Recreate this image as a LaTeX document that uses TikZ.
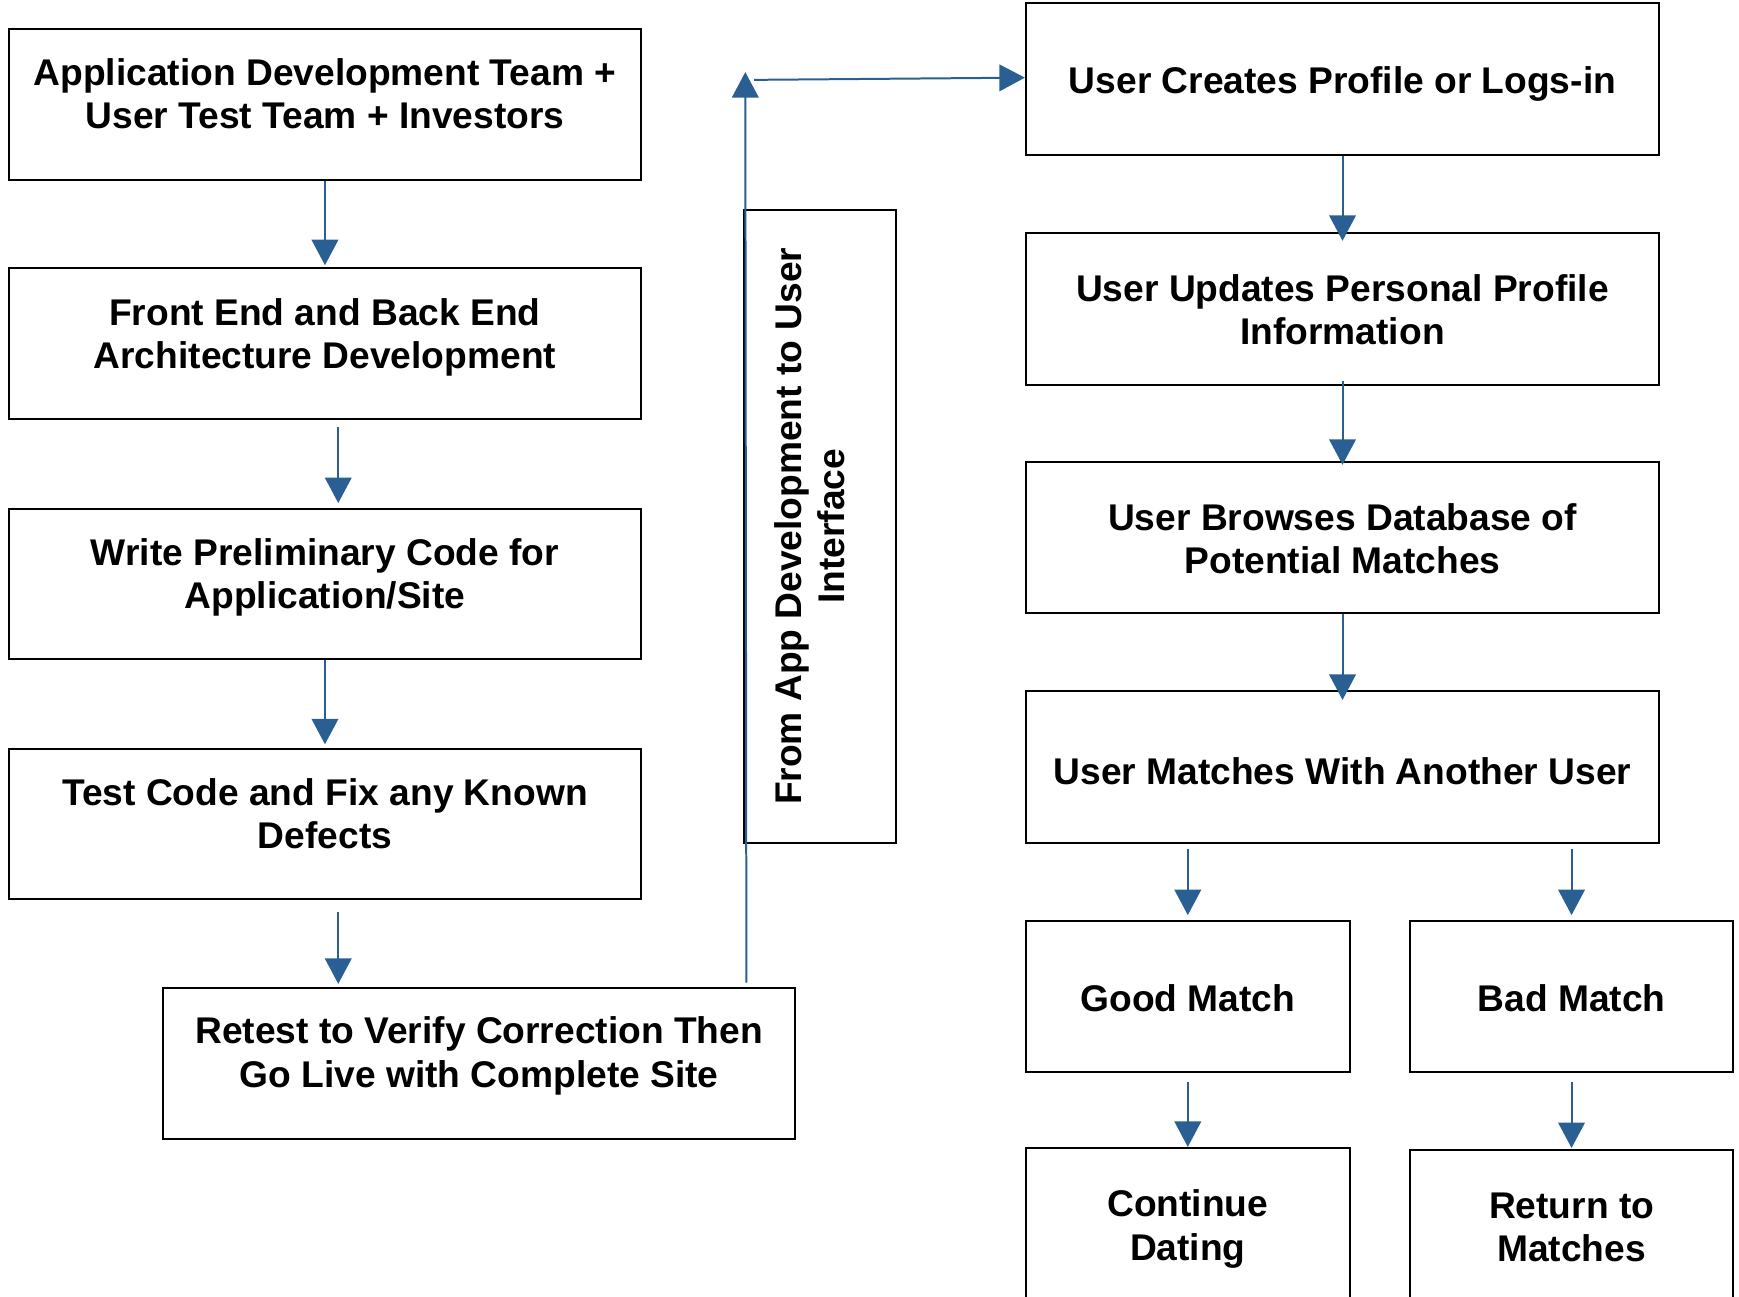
\documentclass[tikz,border=0pt]{standalone}
\usepackage{fontspec}
\setmainfont{Liberation Sans}
\usetikzlibrary{arrows.meta,calc}
\definecolor{flowblue}{RGB}{42,95,148}
\begin{document}
\begin{tikzpicture}[x=0.5pt,y=-0.5pt,
  box/.style={draw=black,line width=0.9pt,fill=white,inner sep=0pt},
  widebox/.style={box,minimum width=285pt,minimum height=68pt},
  smallbox/.style={box,minimum width=146pt,minimum height=68.5pt},
  lbl/.style={align=center,inner sep=0pt,font=\bfseries\fontsize{16.75}{19.5}\selectfont},
  flow/.style={draw=flowblue,line width=0.9pt,-{Triangle[width=12pt,length=11.5pt]}}]
\useasboundingbox (0,0) rectangle (1568,1169);
\clip (0,0) rectangle (1568,1169);

% development column
\node[widebox] (team) at (293,94) {};
\node[widebox] (arch) at (293,310) {};
\node[widebox] (code) at (293,526.5) {};
\node[widebox] (test) at (293,743) {};
\node[widebox] (live) at (432,959) {};
\node[lbl] (teamt) at ([yshift=4.75pt]team.center) {Application Development Team +\\User Test Team + Investors};
\node[lbl] (archt) at ([yshift=3pt]arch.center) {Front End and Back End\\Architecture Development};
\node[lbl] (codet) at ([yshift=3pt]code.center) {Write Preliminary Code for\\Application/Site};
\node[lbl] (testt) at ([yshift=4.5pt]test.center) {Test Code and Fix any Known\\Defects};
\node[lbl] (livet) at ([yshift=3.5pt]live.center) {Retest to Verify Correction Then\\Go Live with Complete Site};

% hand-over box
\node[box,minimum width=68.5pt,minimum height=285.5pt] (handover) at (739.5,474.5) {};
\node[lbl,rotate=90] (handovert) at ([xshift=-4.75pt]handover.center) {From App Development to User\\Interface};

% user column
\node[widebox,minimum width=285.5pt,minimum height=68.5pt] (login) at (1210.5,71.5) {};
\node[lbl] (logint) at ([yshift=-2pt]login.center) {User Creates Profile or Logs-in};
\node[widebox,minimum width=285.5pt,minimum height=68.5pt] (update) at (1210.5,278.5) {};
\node[lbl] (updatet) at ([yshift=-0.5pt]update.center) {User Updates Personal Profile\\Information};
\node[widebox,minimum width=285.5pt,minimum height=68pt] (browse) at (1210.5,485) {};
\node[lbl] (browset) at ([yshift=-0.5pt]browse.center) {User Browses Database of\\Potential Matches};
\node[widebox,minimum width=285.5pt,minimum height=68.5pt] (match) at (1210.5,691.5) {};
\node[lbl] (matcht) at ([yshift=-1.75pt]match.center) {User Matches With Another User};
\node[smallbox] (good) at (1071,898.5) {};
\node[lbl] (goodt) at ([yshift=-0.75pt]good.center) {Good Match};
\node[smallbox] (bad) at (1417,898.5) {};
\node[lbl] (badt) at ([yshift=-0.75pt]bad.center) {Bad Match};
\node[smallbox] (cont) at (1071,1103.5) {};
\node[lbl] (contt) at ([yshift=-2.25pt]cont.center) {Continue\\Dating};
\node[smallbox] (ret) at (1417,1105.5) {};
\node[lbl] (rett) at ([yshift=-0.75pt]ret.center) {Return to\\Matches};

% development flow
\coordinate (archout) at ([xshift=6pt,yshift=-3pt]arch.south);
\coordinate (testout) at ([xshift=6pt,yshift=-5pt]test.south);
\coordinate (livein) at (testout |- live.north);
\draw[flow] (team.south) -- ([yshift=1pt]arch.north);
\draw[flow] (archout) -- ([xshift=6pt,yshift=2pt]code.north);
\draw[flow] (code.south) -- ([yshift=1.5pt]test.north);
\draw[flow] (testout) -- ([yshift=1.5pt]livein);

% hand-over to the user side
\coordinate (riseend) at (672,65);
\coordinate (risestart) at (673,886);
\coordinate (runstart) at (680,72);
\draw[flow] (risestart) -- (riseend);
\draw[flow] (runstart) -- ([yshift=0.75pt]login.west);

% user flow
\coordinate (goodin) at (match.south -| good.north);
\coordinate (badin) at (match.south -| bad.north);
\draw[flow] (login.south) -- ([yshift=-4pt]update.north);
\draw[flow] ([yshift=2pt]update.south) -- ([yshift=-1.5pt]browse.north);
\draw[flow] (browse.south) -- ([yshift=-4.5pt]match.north);
\draw[flow] ([yshift=-2.5pt]goodin) -- ([yshift=2pt]good.north);
\draw[flow] ([yshift=-2.5pt]badin) -- ([yshift=2pt]bad.north);
\draw[flow] ([yshift=-4pt]good.south) -- (cont.north);
\draw[flow] ([yshift=-4pt]bad.south) -- ([yshift=0.5pt]ret.north);
\end{tikzpicture}
\end{document}
